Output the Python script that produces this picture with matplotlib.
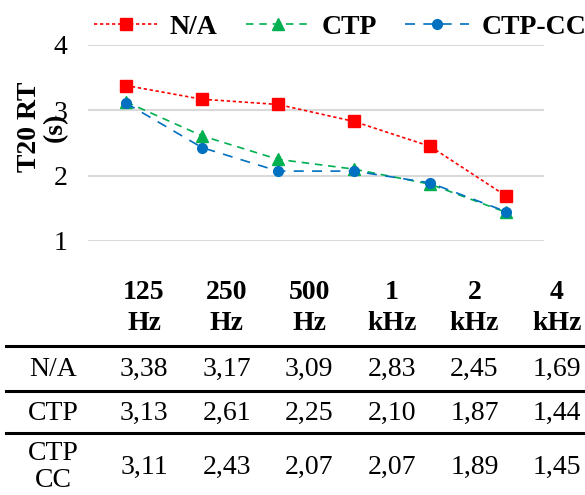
import matplotlib.pyplot as plt
from matplotlib.lines import Line2D

plt.rcParams['font.family'] = ['Liberation Serif', 'DejaVu Serif']

bands = ['125\nHz', '250\nHz', '500\nHz', '1\nkHz', '2\nkHz', '4\nkHz']
row_names = ['N/A', 'CTP', 'CTP\nCC']
series_names = ['N/A', 'CTP', 'CTP-CC']
na_vals = [3.38, 3.17, 3.09, 2.83, 2.45, 1.69]
ctp_vals = [3.13, 2.61, 2.25, 2.10, 1.87, 1.44]
ctpcc_vals = [3.11, 2.43, 2.07, 2.07, 1.89, 1.45]

W, H = 585, 495
FS = 20
fig = plt.figure(figsize=(W / 100, H / 100), dpi=100)
ax = fig.add_axes([88 / W, 1 - 241 / H, (544 - 88) / W, (241 - 45) / H])

x = list(range(len(bands)))
ax.plot(x, na_vals, color='#ff0000', ls=(0, (2, 1.6)), lw=1.2,
        marker='s', ms=8, label=series_names[0])
ax.plot(x, ctp_vals, color='#00b050', ls=(0, (4.5, 3.5)), lw=1.2,
        marker='^', ms=9, label=series_names[1])
ax.plot(x, ctpcc_vals, color='#0070c0', ls=(0, (6, 5)), lw=1.2,
        marker='o', ms=7, label=series_names[2])

ax.set_xlim(-0.5, len(bands) - 0.5)
ax.set_ylim(1, 4)
ax.set_yticks([1, 2, 3, 4])
ax.set_xticks([])
ax.grid(axis='y', color='#d9d9d9', lw=1.5)
ax.set_axisbelow(True)
for s in ax.spines.values():
    s.set_visible(False)
ax.tick_params(axis='y', length=0, labelsize=FS, pad=15)

# axis title sits a bit above the axes centre, overlapping the "3"
fig.text(42 / W, 1 - 127 / H, 'T20 RT\n(s)', rotation=90, ha='center',
         va='center', fontsize=FS, fontweight='bold', linespacing=1.05)

fig.legend(loc='center', bbox_to_anchor=(340 / W, 1 - 27 / H), ncol=3,
           frameon=False, prop={'size': FS, 'weight': 'bold'},
           handlelength=2.3, handletextpad=0.45, columnspacing=1.0)

# table under the chart
col_x = [144 + i * 82.6 for i in range(len(bands))]
for cx, b in zip(col_x, bands):
    fig.text(cx / W, 1 - 308 / H, b, ha='center', va='center', fontsize=FS,
             fontweight='bold', linespacing=1.35)

rows = [na_vals, ctp_vals, ctpcc_vals]
row_y = [369, 413, 467]
for name, vals, ry in zip(row_names, rows, row_y):
    fig.text(53 / W, 1 - ry / H, name, ha='center', va='center', fontsize=FS,
             linespacing=1.1)
    for cx, v in zip(col_x, vals):
        fig.text(cx / W, 1 - ry / H, f'{v:.2f}'.replace('.', ','),
                 ha='center', va='center', fontsize=FS)

for ly in [346, 391, 433]:
    fig.add_artist(Line2D([6 / W, 1], [1 - ly / H, 1 - ly / H], color='black',
                          lw=2.2, transform=fig.transFigure))

fig.savefig('out.png', dpi=100)
